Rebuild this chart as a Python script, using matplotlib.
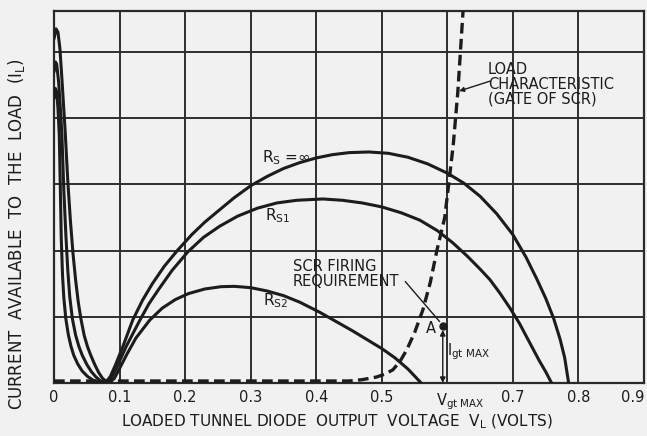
import numpy as np
import matplotlib
matplotlib.use("Agg")
import matplotlib.pyplot as plt

# Curvas de corriente disponible en la carga (unidades de cuadricula)
x_inf = [0.000, 0.002, 0.004, 0.006, 0.008, 0.0095, 0.011, 0.013, 0.015, 0.018,
         0.022, 0.026, 0.030, 0.036, 0.043, 0.051, 0.060, 0.068, 0.075, 0.080,
         0.086, 0.094, 0.105, 0.120, 0.135, 0.150, 0.168, 0.188, 0.210, 0.230,
         0.253, 0.275, 0.300, 0.325, 0.350, 0.375, 0.400, 0.425, 0.450, 0.480,
         0.510, 0.540, 0.570, 0.600, 0.625, 0.650, 0.675, 0.700, 0.720, 0.736,
         0.750, 0.762, 0.772, 0.779, 0.785]
y_inf = [4.30, 4.45, 4.40, 4.15, 3.75, 3.00, 2.20, 1.62, 1.28, 0.97,
         0.72, 0.55, 0.42, 0.29, 0.18, 0.10, 0.04, 0.01, 0.00, 0.02,
         0.10, 0.28, 0.55, 0.95, 1.25, 1.50, 1.76, 2.00, 2.24, 2.43,
         2.62, 2.80, 2.98, 3.12, 3.24, 3.33, 3.40, 3.45, 3.48, 3.49,
         3.47, 3.41, 3.31, 3.17, 3.02, 2.82, 2.56, 2.24, 1.90, 1.58,
         1.28, 0.98, 0.66, 0.38, 0.00]

x_s1 = [0.000, 0.002, 0.004, 0.007, 0.010, 0.012, 0.015, 0.018, 0.021, 0.024,
        0.028, 0.033, 0.038, 0.043, 0.050, 0.057, 0.064, 0.071, 0.078, 0.086,
        0.095, 0.110, 0.131, 0.145, 0.160, 0.180, 0.204, 0.228, 0.253, 0.280,
        0.310, 0.340, 0.370, 0.410, 0.440, 0.470, 0.500, 0.530, 0.558, 0.585,
        0.608, 0.630, 0.650, 0.665, 0.680, 0.695, 0.710, 0.725, 0.740, 0.750,
        0.759]
y_s1 = [4.70, 4.85, 4.82, 4.55, 4.10, 3.75, 2.90, 2.25, 1.70, 1.30,
        0.97, 0.72, 0.55, 0.42, 0.28, 0.17, 0.09, 0.03, 0.00, 0.05,
        0.22, 0.55, 0.95, 1.20, 1.42, 1.70, 1.98, 2.20, 2.37, 2.52,
        2.64, 2.72, 2.76, 2.78, 2.76, 2.72, 2.66, 2.57, 2.46, 2.30,
        2.12, 1.92, 1.72, 1.56, 1.36, 1.14, 0.90, 0.62, 0.34, 0.17,
        0.00]

x_s2 = [0.000, 0.003, 0.006, 0.009, 0.012, 0.017, 0.021, 0.025, 0.029, 0.033,
        0.037, 0.041, 0.046, 0.051, 0.056, 0.062, 0.068, 0.074, 0.080, 0.084,
        0.092, 0.100, 0.112, 0.125, 0.146, 0.165, 0.185, 0.205, 0.230, 0.255,
        0.275, 0.300, 0.325, 0.350, 0.375, 0.405, 0.430, 0.455, 0.480, 0.500,
        0.520, 0.540, 0.560]
y_s2 = [5.20, 5.35, 5.30, 5.05, 4.60, 3.80, 3.05, 2.45, 1.95, 1.55,
        1.22, 0.97, 0.72, 0.55, 0.42, 0.28, 0.16, 0.07, 0.02, 0.00,
        0.07, 0.22, 0.45, 0.68, 0.95, 1.13, 1.26, 1.35, 1.42, 1.455,
        1.46, 1.44, 1.39, 1.32, 1.22, 1.07, 0.93, 0.79, 0.64, 0.52,
        0.38, 0.21, 0.00]

# Caracteristica de carga (compuerta del SCR)
x_load = [0.000, 0.450, 0.470, 0.492, 0.505, 0.517, 0.528, 0.538, 0.550,
          0.5625, 0.574, 0.584, 0.596, 0.602, 0.609, 0.616, 0.624]
y_load = [0.03, 0.03, 0.05, 0.09, 0.135, 0.20, 0.33, 0.50, 0.76,
          1.10, 1.52, 2.00, 2.50, 3.00, 3.60, 4.40, 5.63]

# Punto de disparo A
va = 0.593
ia = 0.86

xticks = [0, 0.1, 0.2, 0.3, 0.4, 0.5, 0.7, 0.8, 0.9]
xticklabels = ['0', '0.1', '0.2', '0.3', '0.4', '0.5', '0.7', '0.8', '0.9']

ink = '#1c1c1c'
paper = '#f1f1f1'

fig = plt.figure(figsize=(6.47, 4.36), dpi=100, facecolor=paper)
ax = fig.add_axes([0.0835, 0.1216, 0.9119, 0.8532], facecolor=paper)

ax.set_xlim(0, 0.9)
ax.set_ylim(0, 5.62)

# cuadricula
for gx in np.arange(0.1, 0.85, 0.1):
    ax.axvline(gx, color='#2e2e2e', lw=1.4, zorder=1)
for gy in range(1, 6):
    ax.axhline(gy, color='#2e2e2e', lw=1.4, zorder=1)
for s in ax.spines.values():
    s.set_color('#2a2a2a')
    s.set_linewidth(1.6)

for xs, ys in [(x_inf, y_inf), (x_s1, y_s1), (x_s2, y_s2)]:
    ax.plot(xs, ys, color=ink, lw=2.2, solid_joinstyle='round',
            solid_capstyle='round', zorder=3)
ax.plot(x_load, y_load, color=ink, lw=2.4, dashes=(3.2, 1.6), zorder=3)

ax.plot([va], [ia], 'o', color=ink, ms=5, zorder=4)
ax.annotate('', xy=(va, 0.0), xytext=(va, ia - 0.06),
            arrowprops=dict(arrowstyle='<|-|>', color=ink, lw=1.0,
                            mutation_scale=8, shrinkA=0, shrinkB=0), zorder=4)

fs = 10.5
ax.text(0.317, 3.34, 'R$_\\mathregular{S}$ =∞', fontsize=11, color=ink, va='baseline')
ax.text(0.322, 2.46, 'R$_\\mathregular{S1}$', fontsize=11, color=ink, va='baseline')
ax.text(0.319, 1.18, 'R$_\\mathregular{S2}$', fontsize=11, color=ink, va='baseline')
ax.text(0.364, 1.88, 'SCR FIRING\nREQUIREMENT', fontsize=10.5, color=ink,
        va='top', ha='left', linespacing=1.0)
ax.plot([0.536, 0.588], [1.53, 0.93], color=ink, lw=1.0, zorder=3)
ax.text(0.582, 0.82, 'A', fontsize=fs, color=ink, ha='right', va='center')
ax.text(0.599, 0.47, 'I$_\\mathregular{gt\\ MAX}$', fontsize=fs, color=ink,
        ha='left', va='center')
ax.text(0.662, 4.85, 'LOAD\nCHARACTERISTIC\n(GATE OF SCR)', fontsize=10.5,
        color=ink, va='top', ha='left', linespacing=1.0)
ax.annotate('', xy=(0.618, 4.41), xytext=(0.665, 4.56),
            arrowprops=dict(arrowstyle='-|>', color=ink, lw=1.0,
                            mutation_scale=7, shrinkA=0, shrinkB=0))

ax.set_xticks(xticks)
ax.set_xticklabels(xticklabels, fontsize=fs, color=ink)
ax.get_xticklabels()[-1].set_horizontalalignment('right')
ax.set_yticks([])
ax.tick_params(axis='x', length=0, pad=5)
ax.text(va + 0.027, -0.12, 'V$_\\mathregular{gt\\ MAX}$', fontsize=fs, color=ink,
        ha='center', va='top', transform=ax.transData, clip_on=False)

ax.set_xlabel('LOADED TUNNEL DIODE  OUTPUT  VOLTAGE  V$_\\mathregular{L}$ (VOLTS)',
              fontsize=11, color=ink)
ax.xaxis.set_label_coords(0.48, -0.08)
ax.set_ylabel('CURRENT  AVAILABLE  TO  THE  LOAD  (I$_\\mathregular{L}$)',
              fontsize=12, color=ink)
ax.yaxis.set_label_coords(-0.046, 0.40)

fig.savefig('out.png', dpi=100, facecolor=paper)
